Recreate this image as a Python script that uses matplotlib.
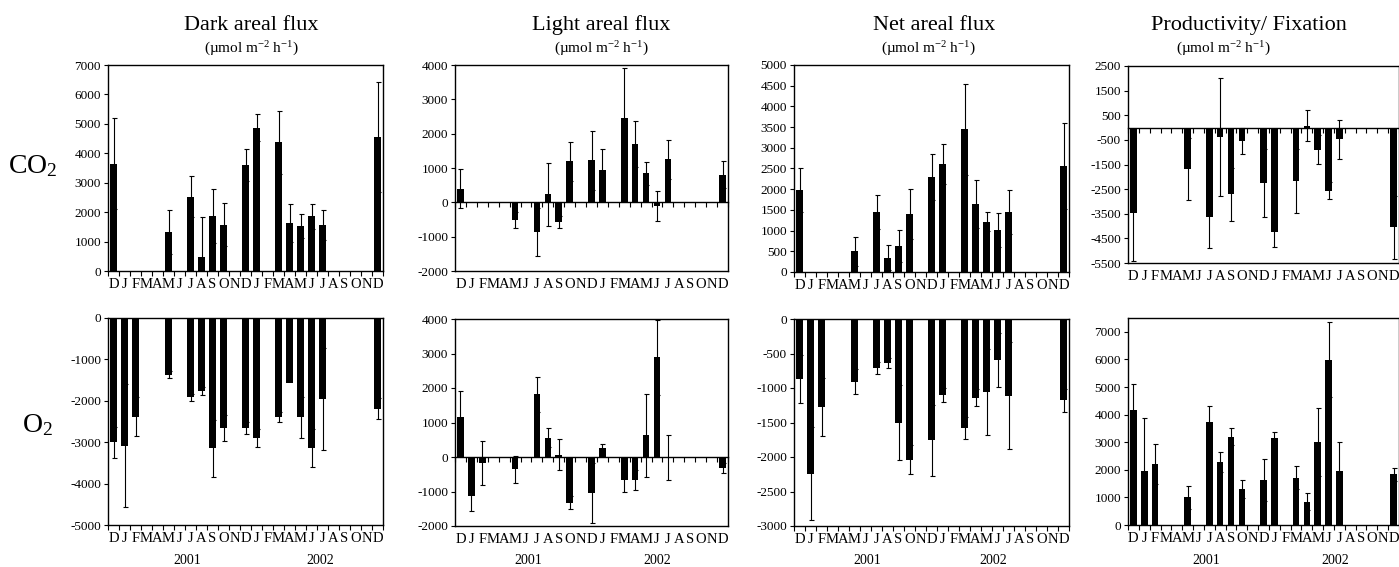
import matplotlib
matplotlib.use('Agg')
import matplotlib.pyplot as plt
import matplotlib.transforms as mtransforms
import numpy as np

plt.rcParams['font.family'] = 'Liberation Serif'
plt.rcParams['mathtext.fontset'] = 'custom'
plt.rcParams['mathtext.rm'] = 'Liberation Serif'
plt.rcParams['mathtext.it'] = 'Liberation Serif:italic'
plt.rcParams['axes.unicode_minus'] = False

n = np.nan

# months from Dec 2000 to Dec 2002
months = ["D", "J", "F", "M", "A", "M", "J", "J", "A", "S", "O", "N",
          "D", "J", "F", "M", "A", "M", "J", "J", "A", "S", "O", "N", "D"]
years = ["2001", "2002"]

col_titles = ["Dark areal flux", "Light areal flux", "Net areal flux", "Productivity/ Fixation"]
row_labels = ["CO$_2$", "O$_2$"]
unit = "(\u00b5mol m$^{-2}$ h$^{-1}$)"

# CO2 row
co2_dark = [3650, n, n, n, n, 1320, n, 2520, 470, 1870, 1570, n,
            3600, 4870, n, 4370, 1620, 1520, 1860, 1560, n, n, n, n, 4550]
co2_dark_err = [1550, n, n, n, n, 740, n, 700, 1380, 910, 730, n,
                550, 460, n, 1080, 650, 400, 430, 520, n, n, n, n, 1880]

co2_light = [400, n, n, n, n, -520, n, -860, 230, -580, 1190, n,
             1230, 930, n, 2460, 1700, 840, -100, 1250, n, n, n, n, 810]
co2_light_err = [570, n, n, n, n, 240, n, 690, 915, 180, 570, n,
                 860, 610, n, 1460, 660, 340, 440, 560, n, n, n, n, 390]

co2_net = [1980, n, n, n, n, 500, n, 1450, 350, 630, 1400, n,
           2290, 2610, n, 3450, 1650, 1210, 1020, 1440, n, n, n, n, 2560]
co2_net_err = [540, n, n, n, n, 350, n, 420, 310, 380, 610, n,
               550, 490, n, 1100, 580, 230, 410, 530, n, n, n, n, 1030]

co2_prod = [-3480, n, n, n, n, -1680, n, -3640, -390, -2710, -535, n,
            -2260, -4260, n, -2180, 80, -900, -2570, -480, n, n, n, n, -4050]
co2_prod_err = [1950, n, n, n, n, 1260, n, 1250, 2390, 1070, 525, n,
                1370, 570, n, 1300, 630, 590, 350, 790, n, n, n, n, 1290]

# O2 row
o2_dark = [-3000, -3080, -2380, n, n, -1370, n, -1920, -1760, -3150, -2650, n,
           -2660, -2890, n, -2400, -1560, -2400, -3150, -1960, n, n, n, n, -2190]
o2_dark_err = [370, 1480, 470, n, n, 90, n, 80, 100, 680, 310, n,
               140, 220, n, 120, n, 500, 460, 1230, n, n, n, n, 250]

o2_light = [1160, -1130, -180, n, n, -360, n, 1820, 560, 65, -1330, n,
            -1040, 250, n, -670, -670, 630, 2890, -20, n, n, n, n, -310]
o2_light_err = [760, 440, 640, n, n, 400, n, 510, 270, 445, 190, n,
                880, 130, n, 350, 290, 1200, 1090, 660, n, n, n, n, 145]

o2_net = [-870, -2240, -1280, n, n, -910, n, -710, -640, -1500, -2040, n,
          -1760, -1100, n, -1580, -1140, -1060, -590, -1110, n, n, n, n, -1180]
o2_net_err = [350, 680, 420, n, n, 180, n, 90, 70, 550, 210, n,
              520, 100, n, 160, 120, 620, 390, 780, n, n, n, n, 170]

o2_prod = [4150, 1960, 2200, n, n, 1000, n, 3720, 2290, 3200, 1300, n,
           1620, 3140, n, 1720, 850, 3000, 5990, 1940, n, n, n, n, 1840]
o2_prod_err = [950, 1910, 720, n, n, 430, n, 580, 370, 310, 320, n,
               760, 230, n, 410, 300, 1240, 1360, 1050, n, n, n, n, 240]

W, H = 1399, 567
fig = plt.figure(figsize=(W / 100, H / 100), dpi=100)


def px_axes(left, top, right, bottom):
    return fig.add_axes([left / W, 1 - bottom / H, (right - left) / W, (bottom - top) / H])


def draw_panel(ax, vals, errs, ylim, yticks, cross_zero=False, year_pos=None):
    x = np.arange(len(months))
    vals = np.array(vals, float)
    errs = np.array(errs, float)
    ok = ~np.isnan(vals)
    ax.errorbar(x[ok], vals[ok], yerr=errs[ok], fmt='none', ecolor='black',
                elinewidth=0.8, capsize=1.8, capthick=0.8, zorder=2)
    ax.bar(x[ok], vals[ok], width=0.6, color='black', linewidth=0, zorder=3)

    ax.set_xlim(-0.5, len(months) - 0.5)
    ax.set_ylim(*ylim)
    ax.set_yticks(yticks)
    ax.set_yticklabels([str(t) for t in yticks])
    ax.set_xticks(np.arange(len(months) + 1) - 0.5)
    ax.tick_params(axis='x', direction='out', length=3.5, width=0.8, labelbottom=False)
    ax.tick_params(axis='y', direction='out', length=3, width=0.8, labelsize=9.5, pad=2)
    for s in ax.spines.values():
        s.set_linewidth(1.0)

    if cross_zero:
        ax.spines['bottom'].set_position(('data', 0))
        ax.plot([0, 1], [0, 0], transform=ax.transAxes, color='black', lw=1.0, clip_on=False)

    # month letters under the box
    trans = mtransforms.blended_transform_factory(ax.transData, ax.transAxes)
    mtrans = mtransforms.offset_copy(trans, fig=fig, y=-7, units='dots')
    for i, m in enumerate(months):
        ax.text(i, 0, m, transform=mtrans, ha='center', va='top', fontsize=10.5)

    if year_pos is not None:
        ytrans = mtransforms.offset_copy(trans, fig=fig, y=-35, units='dots')
        for xp, yr in zip(year_pos, years):
            ax.text(xp, 0, yr, transform=ytrans, ha='center', va='center', fontsize=10)


# row 1 (CO2)
ax = px_axes(108, 65, 383, 271)
draw_panel(ax, co2_dark, co2_dark_err, (0, 7000), list(range(0, 7001, 1000)))
ax = px_axes(455, 65, 728, 271)
draw_panel(ax, co2_light, co2_light_err, (-2000, 4000), list(range(-2000, 4001, 1000)), cross_zero=True)
ax = px_axes(794, 65, 1069, 272)
draw_panel(ax, co2_net, co2_net_err, (0, 5000), list(range(0, 5001, 500)))
ax = px_axes(1128, 66, 1399, 263)
draw_panel(ax, co2_prod, co2_prod_err, (-5500, 2500), list(range(-5500, 2501, 1000)), cross_zero=True)

# row 2 (O2)
ax = px_axes(108, 318, 383, 525)
draw_panel(ax, o2_dark, o2_dark_err, (-5000, 0), list(range(-5000, 1, 1000)), year_pos=(6.7, 18.8))
ax = px_axes(455, 319, 728, 526)
draw_panel(ax, o2_light, o2_light_err, (-2000, 4000), list(range(-2000, 4001, 1000)),
           cross_zero=True, year_pos=(6.2, 18.0))
ax = px_axes(794, 319, 1069, 526)
draw_panel(ax, o2_net, o2_net_err, (-3000, 0), list(range(-3000, 1, 500)), year_pos=(6.2, 17.6))
ax = px_axes(1128, 318, 1399, 525)
draw_panel(ax, o2_prod, o2_prod_err, (0, 7500), list(range(0, 7001, 1000)), year_pos=(6.7, 18.6))

# column titles and units
title_x = [251, 601, 934, 1249]
unit_x = [251, 601, 928, 1223]
for t, tx, ux in zip(col_titles, title_x, unit_x):
    fig.text(tx / W, 1 - 30 / H, t, ha='center', va='baseline', fontsize=16)
    fig.text(ux / W, 1 - 53 / H, unit, ha='center', va='baseline', fontsize=11)

# row labels
fig.text(8 / W, 1 - 173 / H, row_labels[0], ha='left', va='baseline', fontsize=20)
fig.text(22 / W, 1 - 432 / H, row_labels[1], ha='left', va='baseline', fontsize=20)

fig.savefig('out.png', dpi=100)
